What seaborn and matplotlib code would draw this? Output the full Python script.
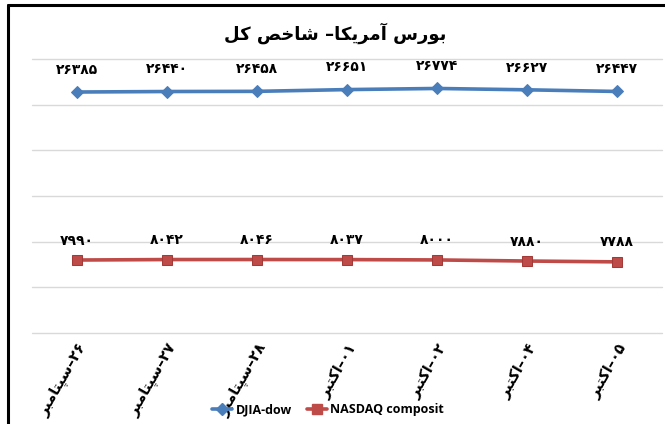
import numpy as np
import pandas as pd
import matplotlib
matplotlib.use("Agg")
import matplotlib.pyplot as plt
from matplotlib.lines import Line2D
import seaborn as sns

# ---- data ----
days = ["۲۶", "۲۷", "۲۸", "۰۱", "۰۲", "۰۴", "۰۵"]
months = ["سپتامبر", "سپتامبر", "سپتامبر", "اکتبر", "اکتبر", "اکتبر", "اکتبر"]
djia = [26385, 26440, 26458, 26651, 26774, 26627, 26447]
nasdaq = [7990, 8042, 8046, 8037, 8000, 7880, 7788]
title = "بورس آمریکا– شاخص کل"

# ---- tiny Persian shaper (matplotlib does no shaping / bidi) ----
FORMS = {
    'ا': ('\uFE8D', '\uFE8E', None, None),
    'آ': ('\uFE81', '\uFE82', None, None),
    'ب': ('\uFE8F', '\uFE90', '\uFE91', '\uFE92'),
    'پ': ('\uFB56', '\uFB57', '\uFB58', '\uFB59'),
    'ت': ('\uFE95', '\uFE96', '\uFE97', '\uFE98'),
    'خ': ('\uFEA5', '\uFEA6', '\uFEA7', '\uFEA8'),
    'ر': ('\uFEAD', '\uFEAE', None, None),
    'س': ('\uFEB1', '\uFEB2', '\uFEB3', '\uFEB4'),
    'ش': ('\uFEB5', '\uFEB6', '\uFEB7', '\uFEB8'),
    'ص': ('\uFEB9', '\uFEBA', '\uFEBB', '\uFEBC'),
    'ک': ('\uFB8E', '\uFB8F', '\uFB90', '\uFB91'),
    'ل': ('\uFEDD', '\uFEDE', '\uFEDF', '\uFEE0'),
    'م': ('\uFEE1', '\uFEE2', '\uFEE3', '\uFEE4'),
    'و': ('\uFEED', '\uFEEE', None, None),
    'ی': ('\uFBFC', '\uFBFD', '\uFBFE', '\uFBFF'),
}


def shape(text):
    out = []
    for i, ch in enumerate(text):
        f = FORMS.get(ch)
        if f is None:
            out.append(ch)
            continue
        prev = text[i - 1] if i > 0 else None
        nxt = text[i + 1] if i + 1 < len(text) else None
        jp = prev in FORMS and FORMS[prev][2] is not None
        jn = nxt in FORMS and f[2] is not None
        if jp and jn:
            out.append(f[3])
        elif jp:
            out.append(f[1])
        elif jn:
            out.append(f[2])
        else:
            out.append(f[0])
    return "".join(out)


def rtl(text):
    return shape(text)[::-1]


def fa_num(n):
    return str(n).translate(str.maketrans("0123456789", "۰۱۲۳۴۵۶۷۸۹"))


xlabels = [rtl(m) + "–" + d for d, m in zip(days, months)]

df = pd.DataFrame({"x": range(len(days)), "DJIA-dow": djia, "NASDAQ composit": nasdaq})

# ---- plot ----
sns.set_style("white")
plt.rcParams['font.family'] = ['DejaVu Sans']
plt.rcParams['text.color'] = 'black'
plt.rcParams['xtick.color'] = 'black'

fig = plt.figure(figsize=(6.65, 4.24), dpi=100)
ax = fig.add_axes([32 / 665, 1 - 333 / 424, 630 / 665, 274 / 424])

blue = "#4A7EBB"
red = "#BE4B48"
sns.lineplot(data=df, x="x", y="DJIA-dow", ax=ax, color=blue, lw=2.6,
             marker="D", markersize=6, markeredgecolor=blue, label="DJIA-dow")
sns.lineplot(data=df, x="x", y="NASDAQ composit", ax=ax, color=red, lw=2.6,
             marker="s", markersize=7, markeredgecolor="#A33A37", label="NASDAQ composit")

for i in range(len(days)):
    ax.annotate(fa_num(djia[i]), (i, djia[i]), xytext=(0, 11), textcoords="offset points",
                ha="center", va="bottom", fontsize=10, fontweight="bold", color="black")
    ax.annotate(fa_num(nasdaq[i]), (i, nasdaq[i]), xytext=(0, 9), textcoords="offset points",
                ha="center", va="bottom", fontsize=10, fontweight="bold", color="black")

ax.set_ylim(0, 30000)
ax.set_xlim(-0.5, len(days) - 0.5)
ax.set_yticks(np.arange(0, 30001, 5000))
ax.set_yticklabels([])
ax.grid(axis="y", color="#D9D9D9", lw=1)
for gl in ax.get_ygridlines():
    gl.set_clip_on(False)
ax.set_axisbelow(True)
ax.tick_params(axis="both", length=0)
ax.set_xticks(range(len(days)))
ax.set_xticklabels(xlabels, rotation=60, ha="right", rotation_mode="anchor",
                   fontsize=10.5, fontweight="bold")
ax.tick_params(axis="x", pad=6)
ax.set_xlabel("")
ax.set_ylabel("")
for s in ax.spines.values():
    s.set_visible(False)

ax.get_legend().remove()
handles = [Line2D([], [], color=blue, lw=2.6, marker="D", markersize=6),
           Line2D([], [], color=red, lw=2.6, marker="s", markersize=7)]
fig.legend(handles, ["DJIA-dow", "NASDAQ composit"], loc="center", ncol=2,
           bbox_to_anchor=(328 / 665, 1 - 410 / 424), frameon=False,
           prop={"family": "Open Sans", "weight": "bold", "size": 9},
           handlelength=1.6, handletextpad=0.3, columnspacing=1.2)

fig.text(335 / 665, 1 - 33 / 424, rtl(title), ha="center", va="center",
         fontsize=13, fontweight="bold", color="black")

# frame of the chart area (top and left edges visible)
fig.add_artist(Line2D([8 / 665, 1], [1 - 5 / 424, 1 - 5 / 424], color="black", lw=2.2))
fig.add_artist(Line2D([8 / 665, 8 / 665], [0, 1 - 5 / 424], color="black", lw=2.2))

fig.savefig("out.png", dpi=100)
